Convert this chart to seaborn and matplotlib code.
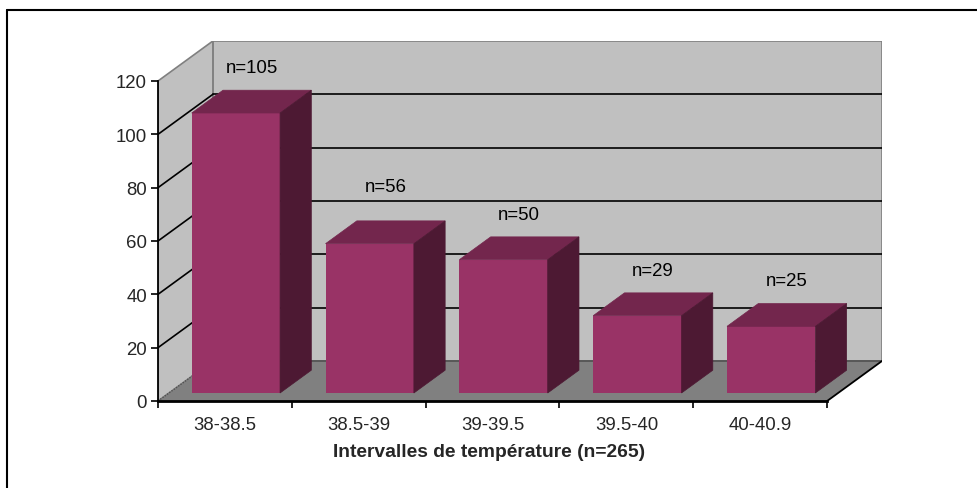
import numpy as np
import pandas as pd
import matplotlib
matplotlib.use("Agg")
import matplotlib.pyplot as plt
from matplotlib.patches import Polygon
from matplotlib.lines import Line2D
from matplotlib.ticker import FixedLocator, NullFormatter
import seaborn as sns

# Data
categories = ["38-38.5", "38.5-39", "39-39.5", "39.5-40", "40-40.9"]
counts = [105, 56, 50, 29, 25]
value_labels = ["n=105", "n=56", "n=50", "n=29", "n=25"]
y_ticks = [0, 20, 40, 60, 80, 100, 120]
x_title = "Intervalles de température (n=265)"

# Style
sns.set_style("white")
plt.rcParams["font.family"] = ["Liberation Sans", "DejaVu Sans"]

FRONT = "#993366"
TOP = "#73264d"
SIDE = "#4d1933"
WALL = "#c0c0c0"
FLOOR = "#808080"
EDGE = "#808080"
FS = 13.4

# Pseudo-3D geometry (depth expressed in data units)
DEPTH_X = 0.41      # horizontal shift of the back plane, in category units
DEPTH_Y = 15.0      # vertical shift of the back plane, in value units
BAR_D0, BAR_D1 = 0.20, 0.77   # depth span occupied by each bar
BAR_W = 0.66
YMAX = 120
n = len(categories)
x_lo, x_hi = -0.5, n - 0.5

fig = plt.figure(figsize=(9.78, 4.89), dpi=100)
W, H = 978, 489
ax = fig.add_axes([158 / W, (H - 402) / H, 724 / W, 360 / H])
ax.set_facecolor("none")

df = pd.DataFrame({"interval": categories, "count": counts})
sns.barplot(data=df, x="interval", y="count", color=FRONT, saturation=1,
            width=BAR_W, errorbar=None, ax=ax, zorder=3, linewidth=0)

# Walls and floor
back = Polygon([(x_lo + DEPTH_X, DEPTH_Y), (x_hi + DEPTH_X, DEPTH_Y),
                (x_hi + DEPTH_X, YMAX + DEPTH_Y), (x_lo + DEPTH_X, YMAX + DEPTH_Y)],
               closed=True, facecolor=WALL, edgecolor=EDGE, linewidth=1.2, zorder=0.2)
left = Polygon([(x_lo, 0), (x_lo, YMAX), (x_lo + DEPTH_X, YMAX + DEPTH_Y),
                (x_lo + DEPTH_X, DEPTH_Y)],
               closed=True, facecolor=WALL, edgecolor=EDGE, linewidth=1.2, zorder=0.2)
floor = Polygon([(x_lo, 0), (x_hi, 0), (x_hi + DEPTH_X, DEPTH_Y), (x_lo + DEPTH_X, DEPTH_Y)],
                closed=True, facecolor=FLOOR, edgecolor="none", zorder=0.3)
for p in (back, left, floor):
    ax.add_patch(p)

# Gridlines on back wall and left wall
for v in y_ticks[1:-1]:
    ax.plot([x_lo + DEPTH_X, x_hi + DEPTH_X], [v + DEPTH_Y, v + DEPTH_Y],
            color="black", linewidth=1.2, zorder=0.5)
    ax.plot([x_lo, x_lo + DEPTH_X], [v, v + DEPTH_Y],
            color="black", linewidth=1.2, zorder=0.5)
ax.plot([x_lo + DEPTH_X, x_hi + DEPTH_X], [DEPTH_Y, DEPTH_Y],
        color="#505050", linewidth=1.2, zorder=0.5)
ax.plot([x_lo, x_lo + DEPTH_X], [0, DEPTH_Y], color="#505050",
        linewidth=1.0, linestyle=(0, (1, 1)), zorder=0.5)
ax.plot([x_hi, x_hi + DEPTH_X], [0, DEPTH_Y], color="black", linewidth=1.3, zorder=0.6)

# Turn the flat bars into boxes
dx0, dy0 = BAR_D0 * DEPTH_X, BAR_D0 * DEPTH_Y
dx1, dy1 = BAR_D1 * DEPTH_X, BAR_D1 * DEPTH_Y
bars = [p for p in ax.patches if p.get_facecolor()[:3] == matplotlib.colors.to_rgb(FRONT)]
for bar in bars:
    x0, w, h = bar.get_x(), bar.get_width(), bar.get_height()
    bar.set_x(x0 + dx0)
    bar.set_y(dy0)
    top = Polygon([(x0 + dx0, h + dy0), (x0 + w + dx0, h + dy0),
                   (x0 + w + dx1, h + dy1), (x0 + dx1, h + dy1)],
                  closed=True, facecolor=TOP, edgecolor=TOP, linewidth=0.5, zorder=3)
    side = Polygon([(x0 + w + dx0, dy0), (x0 + w + dx1, dy1),
                    (x0 + w + dx1, h + dy1), (x0 + w + dx0, h + dy0)],
                   closed=True, facecolor=SIDE, edgecolor=SIDE, linewidth=0.5, zorder=3)
    ax.add_patch(top)
    ax.add_patch(side)

# Value labels above bars
label_nudge = [0, 4.5, 0, 0, 0]
dxm = 0.5 * (BAR_D0 + BAR_D1) * DEPTH_X
for i, (v, txt) in enumerate(zip(counts, value_labels)):
    ax.text(i + dxm, v + 20 + label_nudge[i], txt, ha="center", va="center",
            fontsize=FS, color="black", zorder=5)

# Axes, ticks and labels
ax.set_xlim(x_lo, x_hi + DEPTH_X)
ax.set_ylim(0, YMAX + DEPTH_Y)
ax.set_yticks(y_ticks)
ax.set_yticklabels([str(t) for t in y_ticks])
ax.xaxis.set_major_locator(FixedLocator(np.arange(x_lo, x_hi + 0.01, 1.0)))
ax.xaxis.set_major_formatter(NullFormatter())
ax.xaxis.set_minor_locator(FixedLocator(np.arange(n)))
ax.set_xticks(np.arange(n), categories, minor=True)
ax.tick_params(axis="x", which="major", direction="out", length=5, width=1.2,
               color="black", bottom=True)
ax.tick_params(axis="x", which="minor", length=0, pad=11, labelsize=FS)
ax.tick_params(axis="y", direction="out", length=5, width=1.2, color="black",
               left=True, pad=3, labelsize=FS)
for s in ("top", "right"):
    ax.spines[s].set_visible(False)
ax.spines["left"].set_bounds(0, YMAX)
ax.spines["bottom"].set_bounds(x_lo, x_hi)
ax.spines["left"].set_color("black")
ax.spines["bottom"].set_color("black")
ax.spines["left"].set_linewidth(1.3)
ax.spines["bottom"].set_linewidth(2.0)
ax.spines["left"].set_zorder(4)
ax.spines["bottom"].set_zorder(4)
ax.set_xlabel(x_title, fontsize=13.9, fontweight="bold")
ax.xaxis.label.set_va("center")
ax.xaxis.set_label_coords((489 - 158) / 724, -(453 - 402) / 360)
ax.set_ylabel("")

# Chart frame
fig.add_artist(Line2D([7 / W, 1.0], [1 - 11 / H, 1 - 11 / H], color="black",
                      linewidth=1.5, transform=fig.transFigure))
fig.add_artist(Line2D([7 / W, 7 / W], [0.0, 1 - 11 / H], color="black",
                      linewidth=1.5, transform=fig.transFigure))

fig.savefig("out.png", dpi=100, facecolor="white")
